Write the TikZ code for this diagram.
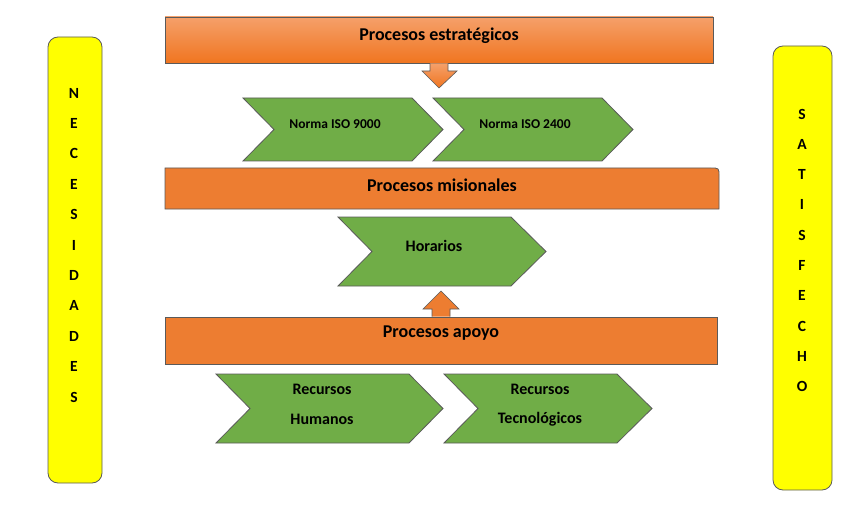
\documentclass[tikz,border=0pt]{standalone}
\usepackage{fontspec}
\setmainfont{Carlito}
\definecolor{naranja}{HTML}{ED7D31}
\definecolor{naranjaclaro}{HTML}{F5A06A}
\definecolor{naranjaosc}{HTML}{F07520}
\definecolor{verde}{HTML}{70AD47}
\definecolor{amarillo}{HTML}{FFFF00}
\definecolor{borde}{HTML}{5A5A5A}

\begin{document}
\begin{tikzpicture}[x=1pt, y=-1pt,
    barra/.style={draw=borde, fill=naranja, line width=0.8pt},
    flecha/.style={draw=borde, line width=0.6pt, top color=naranjaclaro, bottom color=naranjaosc},
    chevron/.style={draw=borde, fill=verde, line width=0.8pt},
    columna/.style={draw=borde, fill=amarillo, rounded corners=10pt, line width=0.8pt},
    titulo/.style={font=\fontsize{18}{21}\selectfont\bfseries},
    etiqueta/.style={font=\fontsize{13.5}{16}\selectfont\bfseries},
    recurso/.style={font=\fontsize{16}{19}\selectfont\bfseries},
    letra/.style={font=\fontsize{15.5}{18}\selectfont\bfseries, inner sep=0pt}
  ]
    \useasboundingbox (0,0) rectangle (848,505);

    % Side columns
    \node[columna, minimum width=54pt, minimum height=446pt] (necesidades) at (75,260) {};
    \foreach \l [count=\i from 0] in {N,E,C,E,S,I,D,A,D,E,S}
      \node[letra] (nec\i) at (74,{93+30.4*\i}) {\l};

    \node[columna, minimum width=59pt, minimum height=444pt] (satisfecho) at (802.5,268) {};
    \foreach \l [count=\i from 0] in {S,A,T,I,S,F,E,C,H,O}
      \node[letra] (sat\i) at (802,{114+30.3*\i}) {\l};

    % Strategic processes
    \node[barra, top color=naranjaclaro, bottom color=naranjaosc, minimum width=548pt, minimum height=46pt] (estrategicos) at (439,40) {};
    \node[titulo] (testrategicos) at (439,36) {Procesos estratégicos};

    % Arrow down
    \draw[flecha] (430,63.5) -- (430,71) -- (422,71) -- (439,88) -- (457,71) -- (448,71) -- (448,63.5);

    % Norms
    \draw[chevron] (243,98) -- (412,98) -- (443,129.5) -- (412,161) -- (243,161) -- (274,129.5) -- cycle;
    \node[etiqueta] (iso9000) at (335,124) {Norma ISO 9000};
    \draw[chevron] (433,98) -- (602,98) -- (633,129.5) -- (602,161) -- (433,161) -- (464,129.5) -- cycle;
    \node[etiqueta] (iso2400) at (525,124) {Norma ISO 2400};

    % Missional processes
    \draw[barra] (165,209) -- (165,168) -- (711,168) .. controls (719,168) .. (719,176) -- (719,209) -- cycle;
    \node[titulo] (misionales) at (442,185) {Procesos misionales};

    \draw[chevron] (338,217) -- (511,217) -- (546,251.5) -- (511,286) -- (338,286) -- (372,251.5) -- cycle;
    \node[recurso] (horarios) at (434,246) {Horarios};

    % Arrow up
    \draw[barra, line width=0.6pt] (432,316.5) -- (432,309) -- (423,309) -- (441,291) -- (459,309) -- (450,309) -- (450,316.5);

    % Support processes
    \node[barra, minimum width=552pt, minimum height=47pt] (apoyo) at (441,340.5) {};
    \node[titulo] (tapoyo) at (441,333) {Procesos apoyo};

    \draw[chevron] (216,374) -- (409,374) -- (443,408.5) -- (409,443) -- (216,443) -- (250,408.5) -- cycle;
    \node[recurso] (humanos1) at (322,389) {Recursos};
    \node[recurso] (humanos2) at (322,419) {Humanos};
    \draw[chevron] (444,374) -- (617,374) -- (652,408.5) -- (617,443) -- (444,443) -- (478,408.5) -- cycle;
    \node[recurso] (tecnologicos1) at (540,389) {Recursos};
    \node[recurso] (tecnologicos2) at (540,419) {Tecnológicos};
  \end{tikzpicture}
\end{document}
